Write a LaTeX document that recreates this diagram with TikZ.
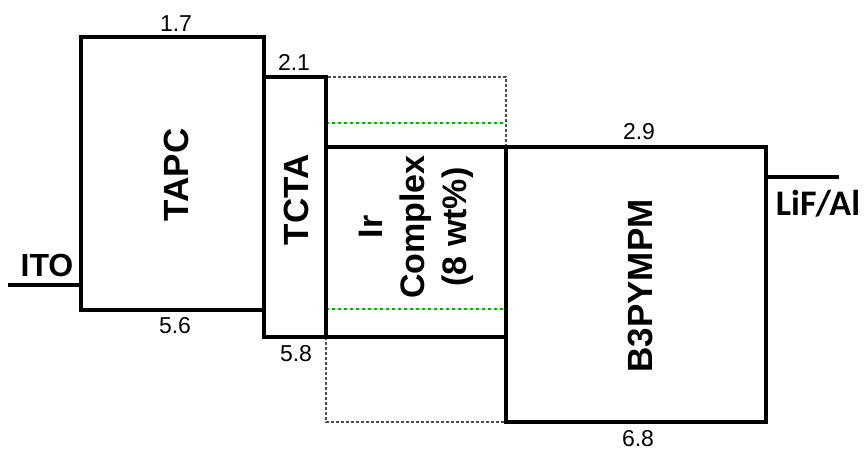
\documentclass[tikz,border=0pt]{standalone}
\usepackage{fontspec}
\setmainfont{Liberation Sans}
\newfontfamily\calibri{Carlito}
\begin{document}
\begin{tikzpicture}[x=1pt,y=-1pt,
  level/.style={line width=3.2pt, line join=miter, line cap=rect},
  guide/.style={draw=black!70, line width=1.1pt, dash pattern=on 3pt off 2pt},
  dopant/.style={draw=green!70!black, line width=2.8pt, dash pattern=on 2.6pt off 3.4pt},
  num/.style={inner sep=0pt, font=\fontsize{23}{27}\selectfont},
  layer/.style={inner sep=0pt, rotate=90, font=\fontsize{35}{42}\selectfont\bfseries},
  elec/.style={inner sep=0pt, font=\fontsize{32}{38}\selectfont\bfseries}]
\useasboundingbox (0,0) rectangle (868,454);
% dashed outline of the host layer
\draw[guide] (326,77) rectangle (506,422);
% dopant levels
\coordinate (g1l) at (326,123); \coordinate (g1r) at (506,123);
\coordinate (g2l) at (326,309); \coordinate (g2r) at (506,309);
\draw[dopant] (g1l) -- (g1r);
\draw[dopant] (g2l) -- (g2r);
% layers
\draw[level] (81,37) rectangle (264,310);
\draw[level] (264,77) rectangle (326,337);
\draw[level] (326,147) rectangle (506,337);
\draw[level] (506,147) rectangle (766,422);
% electrodes
\coordinate (itoL) at (8,285); \coordinate (itoR) at (81,285);
\coordinate (lifL) at (766,177); \coordinate (lifR) at (839,177);
\draw[level, line cap=butt] (itoL) -- (itoR);
\draw[level, line cap=butt] (lifL) -- (lifR);
% labels
\node[elec] (ito) at (47,265) {ITO};
\node[elec, font=\fontsize{36}{42}\selectfont\calibri\bfseries] (lif) at (818,204) {LiF/Al};
\node[layer] (tapc) at (176,175) {TAPC};
\node[layer] (tcta) at (296,200) {TCTA};
\node[layer, align=center, font=\fontsize{34}{42}\selectfont\bfseries] (ir) at (416,227) {Ir\\Complex\\(8 wt\%)};
\node[layer] (b3p) at (640,286) {B3PYMPM};
% energy values
\node[num] (v17) at (176,24) {1.7};
\node[num] (v21) at (294,62) {2.1};
\node[num] (v56) at (175,326) {5.6};
\node[num] (v58) at (296,354) {5.8};
\node[num] (v29) at (639,132) {2.9};
\node[num] (v68) at (638,439) {6.8};
\end{tikzpicture}
\end{document}
